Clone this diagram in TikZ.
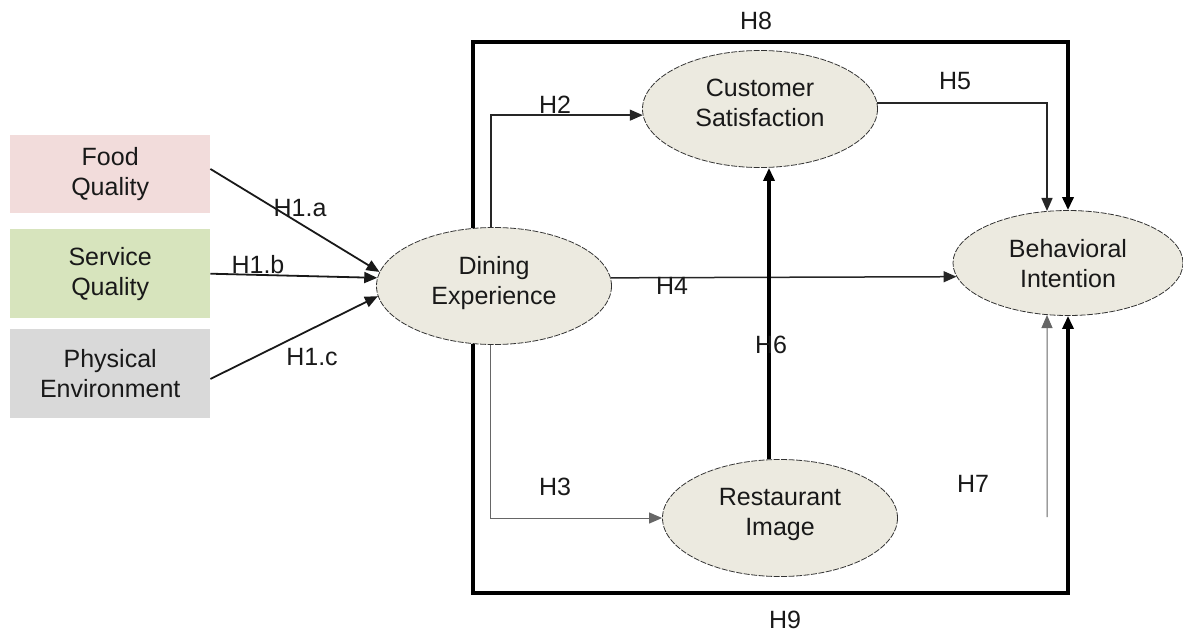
\documentclass[tikz,border=0pt]{standalone}
\usepackage{fontspec}
\setmainfont{Liberation Sans}
\usepackage{xcolor}
\usepackage{tikz}
\usetikzlibrary{shapes, calc, positioning, arrows.meta}

\definecolor{foodpink}{HTML}{F2DCDB}
\definecolor{servgreen}{HTML}{D7E4BD}
\definecolor{physgray}{HTML}{D9D9D9}
\definecolor{constfill}{HTML}{ECEAE0}

\begin{document}
\begin{tikzpicture}[x=1pt, y=-1pt, every node/.style={font=\fontsize{25}{30}\selectfont, text=black!90}]
		\tikzstyle{factor}=[minimum width=200pt, minimum height=89pt, inner sep=0pt, align=center, anchor=north west]
		\tikzstyle{construct}=[ellipse, draw=black!80, dash pattern=on 6pt off 1.5pt, line width=0.8pt, fill=constfill, minimum width=235pt, minimum height=117pt, inner sep=0pt, align=center, text depth=12pt]
		\tikzstyle{link}=[-{Triangle[length=13pt, width=11pt]}, line width=1.5pt, draw=black!85]
		\tikzstyle{inlink}=[link, line width=1.8pt, draw=black!90]
		\tikzstyle{thinlink}=[link, line width=1pt, draw=black!60]
		\tikzstyle{heavylink}=[link, line width=3.4pt, draw=black]
		\tikzstyle{hyp}=[inner sep=0pt]
		
		\useasboundingbox (0,0) rectangle (1183,633);
		
		\node (boxFood) at (10,135) [factor, minimum height=78pt, fill=foodpink] {Food\\Quality};
		\node (boxServ) at (10,229) [factor, fill=servgreen] {Service\\Quality};
		\node (boxPhys) at (10,329) [factor, fill=physgray] {Physical\\Environment};
		
		\node (ellDining) at (494,286) [construct] {Dining\\Experience};
		\node (ellCust) at (760,109) [construct] {Customer\\Satisfaction};
		\node (ellRest) at (780,518) [construct] {Restaurant\\Image};
		\node (ellBehav) at (1068,263) [construct, minimum width=230pt, minimum height=105pt, text depth=0pt] {Behavioral\\Intention};
		
		\coordinate (railTop) at (0,42);
		\coordinate (railBot) at (0,593);
		\coordinate (h6x) at (769,0);
		\coordinate (h7start) at (1047,517);
		
		\draw[inlink] (boxFood.3) -- (ellDining.173);
		\draw[inlink] (boxServ.east) -- (ellDining.176);
		\draw[inlink] (boxPhys.-3) -- (ellDining.185);
		
		\draw[link] (ellDining.93) |- (ellCust.183);
		\draw[thinlink] (ellDining.-93) |- (ellRest.west);
		\draw[link] (ellDining.4) -- (ellBehav.187);
		\draw[link] (ellCust.3) -| (ellBehav.112);
		\draw[heavylink] (ellRest.north -| h6x) -- (ellCust.south -| h6x);
		\draw[thinlink] (h7start) -- (ellBehav.-112);
		
		\draw[heavylink] (ellDining.110) -- (ellDining.110 |- railTop) -| (ellBehav.north);
		\draw[heavylink] (ellDining.-110) -- (ellDining.-110 |- railBot) -| (ellBehav.south);
		
		\node (hypOneA) at (300,208) [hyp] {H1.a};
		\node (hypOneB) at (258,265) [hyp] {H1.b};
		\node (hypOneC) at (312,357) [hyp] {H1.c};
		\node (hypTwo) at (555,105) [hyp] {H2};
		\node (hypThree) at (555,487) [hyp] {H3};
		\node (hypFour) at (672,286) [hyp] {H4};
		\node (hypFive) at (955,81) [hyp] {H5};
		\node (hypSix) at (771,345) [hyp] {H6};
		\node (hypSeven) at (973,484) [hyp] {H7};
		\node (hypEight) at (756,21) [hyp] {H8};
		\node (hypNine) at (785,620) [hyp] {H9};
		
\end{tikzpicture}
\end{document}
